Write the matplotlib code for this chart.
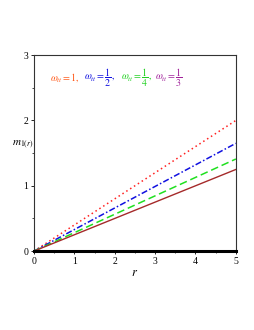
import numpy as np
import matplotlib
matplotlib.use("Agg")
import matplotlib.pyplot as plt

plt.rcParams['font.family'] = 'Liberation Serif'
plt.rcParams['mathtext.fontset'] = 'stix'

r = np.array([0, 5])
m_w1 = np.array([0, 2.0])
m_w2 = np.array([0, 1.65])
m_w4 = np.array([0, 1.41])
m_w3 = np.array([0, 1.25])

fig = plt.figure(figsize=(2.55, 3.3), dpi=100)
ax = fig.add_axes([0.133, 0.239, 0.792, 0.594])

ax.plot(r, m_w1, color='#ff2020', linestyle=(0, (1, 2)), lw=1.1)
ax.plot(r, m_w2, color='#1010e0', linestyle=(0, (4, 1.5, 1, 1.5)), lw=1.1)
ax.plot(r, m_w4, color='#20e020', linestyle=(0, (5, 2.5)), lw=1.1)
ax.plot(r, m_w3, color='#a52a2a', linestyle='-', lw=1.0)

ax.set_xlim(0, 5)
ax.set_ylim(0, 3)
ax.set_xticks([0, 1, 2, 3, 4, 5])
ax.set_yticks([0, 1, 2, 3])
ax.set_xticks(np.arange(0, 5.01, 0.5), minor=True)
ax.set_yticks(np.arange(0, 3.01, 0.5), minor=True)
ax.tick_params(labelsize=7, length=2.5, width=0.6, direction='out', pad=1.5)
ax.tick_params(which='minor', length=1.5, width=0.5)
for s in ['top', 'right', 'left']:
    ax.spines[s].set_linewidth(0.8)
    ax.spines[s].set_color('#333333')
ax.spines['bottom'].set_linewidth(2.2)

ax.set_xlabel(r'$r$', fontsize=9, labelpad=1)
ax.text(-0.055, 0.54, r'$m_{1(r)}$', transform=ax.transAxes, fontsize=8,
        ha='center', va='center')

y = 0.764
fs = 7.2
fig.text(0.196, y, r'$\omega_{tt}=1,$', color='#ff5a1a', fontsize=fs, va='center')
fig.text(0.33, y, r'$\omega_{tt}=\dfrac{1}{2},$', color='#1010e0', fontsize=fs, va='center')
fig.text(0.473, y, r'$\omega_{tt}=\dfrac{1}{4},$', color='#20d020', fontsize=fs, va='center')
fig.text(0.607, y, r'$\omega_{tt}=\dfrac{1}{3}$', color='#a0209a', fontsize=fs, va='center')

fig.savefig('out.png', dpi=100)
